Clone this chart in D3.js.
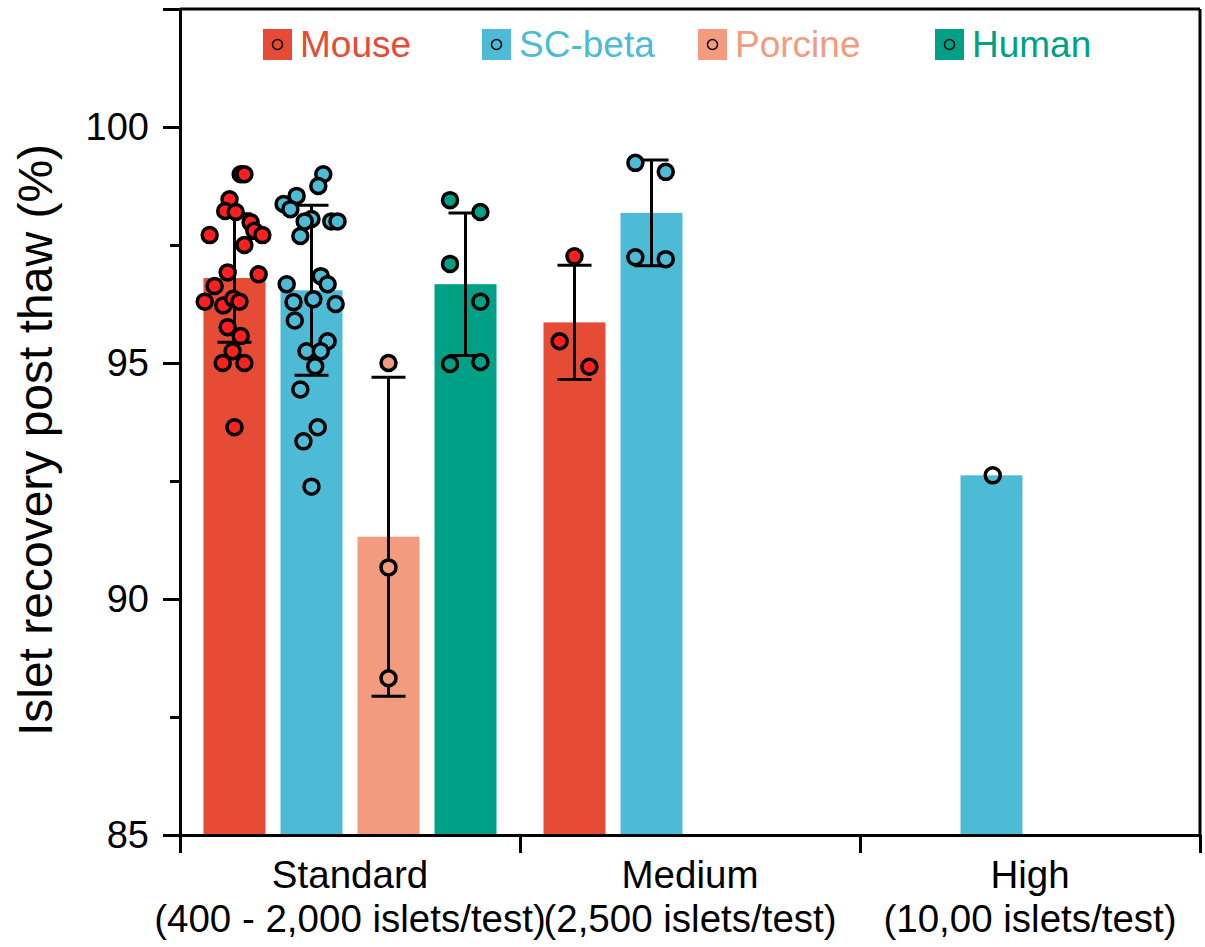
<!DOCTYPE html>
<html lang="en">
  <head>
    <meta charset="utf-8">
    <title>Islet recovery post thaw</title>
    <style>
      body {
        margin: 0;
        background: #fff;
        font-family: "Liberation Sans", Arial, Helvetica, sans-serif;
      }
    </style>
  </head>
  <body>
    <div class="graph"></div>

    <script src="https://d3js.org/d3.v7.min.js"></script>
    <script>
      // groups on the x axis
      var groups = ['Standard', 'Medium', 'High'];
      var groupSubtitles = ['(400 - 2,000 islets/test)', '(2,500 islets/test)', '(10,00 islets/test)'];
      var species = ['Mouse', 'SC-beta', 'Porcine', 'Human'];

      // bar means and SD
      var barGroup = ['Standard', 'Standard', 'Standard', 'Standard', 'Medium', 'Medium', 'High'];
      var barSpecies = ['Mouse', 'SC-beta', 'Porcine', 'Human', 'Mouse', 'SC-beta', 'SC-beta'];
      var barMean = [96.8, 96.54, 91.32, 96.67, 95.86, 98.18, 92.62];
      var barSD = [1.36, 1.8, 3.38, 1.51, 1.21, 1.12, null];

      // individual tests: value and jitter (fraction of bar width)
      var stdMouse = [99.0, 99.0, 98.47, 98.22, 98.2, 97.98, 97.8, 97.71, 97.71, 97.5, 96.92, 96.88,
                      96.63, 96.3, 96.22, 96.36, 96.3, 95.76, 95.57, 95.25, 95.0, 95.0, 93.64];
      var stdMouseJit = [0.1, 0.16, -0.08, -0.15, 0.02, 0.26, 0.32, 0.45, -0.4, 0.16, -0.11, 0.39,
                         -0.32, -0.48, -0.18, -0.02, 0.08, -0.11, 0.1, -0.03, -0.19, 0.16, 0];
      var stdSC = [99.0, 98.75, 98.54, 98.37, 98.26, 98.05, 98.0, 98.0, 98.0, 97.69, 96.84, 96.67, 96.67,
                   96.35, 96.25, 96.29, 95.9, 95.46, 95.25, 95.25, 94.93, 94.44, 93.64, 93.34, 92.38];
      var stdSCJit = [0.19, 0.11, -0.24, -0.45, -0.34, 0, -0.11, 0.32, 0.42, -0.18, 0.15, 0.26, -0.4,
                      0.03, 0.39, -0.29, -0.27, 0.26, -0.08, 0.15, 0.06, -0.18, 0.1, -0.13, 0];
      var stdPorcine = [95.0, 90.67, 88.32];
      var stdPorcineJit = [0, 0, 0];
      var stdHuman = [98.45, 98.2, 97.1, 96.3, 94.98, 95.02];
      var stdHumanJit = [-0.25, 0.24, -0.25, 0.24, -0.25, 0.24];
      var medMouse = [97.26, 95.46, 94.92];
      var medMouseJit = [0, -0.24, 0.24];
      var medSC = [99.24, 99.05, 97.24, 97.2];
      var medSCJit = [-0.26, 0.23, -0.26, 0.23];
      var highSC = [92.62];
      var highSCJit = [0.02];

      var yTicks = [85, 90, 95, 100];
      var yMinorTicks = [87.5, 92.5, 97.5];

      var barColor = {'Mouse': '#E64B35', 'SC-beta': '#4DBBD5', 'Porcine': '#F39B7F', 'Human': '#00A087'};
      var dotColor = {'Mouse': '#FF1F1F', 'SC-beta': '#4DBBD5', 'Porcine': '#F39B7F', 'Human': '#00A087'};

      var pointSets = [
        {group: 'Standard', species: 'Mouse', values: stdMouse, jitter: stdMouseJit},
        {group: 'Standard', species: 'SC-beta', values: stdSC, jitter: stdSCJit},
        {group: 'Standard', species: 'Porcine', values: stdPorcine, jitter: stdPorcineJit},
        {group: 'Standard', species: 'Human', values: stdHuman, jitter: stdHumanJit},
        {group: 'Medium', species: 'Mouse', values: medMouse, jitter: medMouseJit},
        {group: 'Medium', species: 'SC-beta', values: medSC, jitter: medSCJit},
        {group: 'High', species: 'SC-beta', values: highSC, jitter: highSCJit}
      ];

      var bars = barMean.map(function(m, i) {
        return {group: barGroup[i], species: barSpecies[i], mean: m, sd: barSD[i]};
      });
      var points = [];
      pointSets.forEach(function(s) {
        s.values.forEach(function(v, i) {
          points.push({group: s.group, species: s.species, value: v, jitter: s.jitter[i]});
        });
      });

      var width = 1205, height = 947;
      var margin = {top: 9, right: 5, bottom: 112, left: 180};

      var svg = d3.select('.graph')
                  .append('svg')
                  .attr('width', width)
                  .attr('height', height);

      var x0 = d3.scaleBand()
                 .domain(groups)
                 .range([margin.left, width - margin.right])
                 .padding(0);
      var x1 = d3.scaleBand()
                 .domain(species)
                 .range([0, x0.bandwidth()])
                 .paddingInner(0.195)
                 .paddingOuter(0.305);
      var jit = d3.scaleLinear().domain([-0.5, 0.5]).range([0, x1.bandwidth()]);
      var y = d3.scaleLinear()
                .domain([85, 102.5])
                .range([height - margin.bottom, margin.top]);

      function cx(d) { return x0(d.group) + x1(d.species) + x1.bandwidth() / 2; }

      // bars
      svg.append('g').selectAll('rect')
         .data(bars)
         .enter()
         .append('rect')
         .attr('x', function(d) { return x0(d.group) + x1(d.species); })
         .attr('width', x1.bandwidth())
         .attr('y', function(d) { return y(d.mean); })
         .attr('height', function(d) { return y(85) - y(d.mean); })
         .attr('fill', function(d) { return barColor[d.species]; });

      // error bars
      var eb = svg.append('g')
                  .selectAll('g')
                  .data(bars.filter(function(d) { return d.sd != null; }))
                  .enter()
                  .append('g')
                  .attr('stroke', '#000')
                  .attr('stroke-width', 3);
      eb.append('line')
        .attr('x1', cx).attr('x2', cx)
        .attr('y1', function(d) { return y(d.mean + d.sd); })
        .attr('y2', function(d) { return y(d.mean - d.sd); });
      eb.append('line')
        .attr('x1', function(d) { return cx(d) - 17; })
        .attr('x2', function(d) { return cx(d) + 17; })
        .attr('y1', function(d) { return y(d.mean + d.sd); })
        .attr('y2', function(d) { return y(d.mean + d.sd); });
      eb.append('line')
        .attr('x1', function(d) { return cx(d) - 17; })
        .attr('x2', function(d) { return cx(d) + 17; })
        .attr('y1', function(d) { return y(d.mean - d.sd); })
        .attr('y2', function(d) { return y(d.mean - d.sd); });

      // points
      svg.append('g').selectAll('circle')
         .data(points)
         .enter()
         .append('circle')
         .attr('cx', function(d) { return x0(d.group) + x1(d.species) + jit(d.jitter); })
         .attr('cy', function(d) { return y(d.value); })
         .attr('r', 7.5)
         .attr('fill', function(d) { return d.group === 'High' ? 'none' : dotColor[d.species]; })
         .attr('stroke', '#000')
         .attr('stroke-width', 3.5);

      // y axis
      var yAxis = svg.append('g')
                     .attr('transform', 'translate(' + margin.left + ',0)')
                     .call(d3.axisLeft(y).tickValues(yTicks).tickSize(17).tickPadding(14));
      svg.append('g')
         .attr('transform', 'translate(' + margin.left + ',0)')
         .call(d3.axisLeft(y).tickValues(yMinorTicks).tickSize(10).tickFormat(''))
         .call(function(g) { g.select('.domain').remove(); });

      // x axis: labels at group centres, ticks at group edges
      svg.append('g')
         .attr('transform', 'translate(0,' + (height - margin.bottom) + ')')
         .call(d3.axisBottom(x0).tickSize(0).tickPadding(0).tickFormat(''));
      var edges = d3.scaleLinear().domain([0, 3]).range(x0.range());
      svg.append('g')
         .attr('transform', 'translate(0,' + (height - margin.bottom) + ')')
         .call(d3.axisBottom(edges).tickValues([0, 1, 2, 3]).tickSize(18).tickFormat(''))
         .call(function(g) { g.select('.domain').remove(); });

      var labels = svg.append('g')
                      .selectAll('text')
                      .data(groups)
                      .enter()
                      .append('text')
                      .attr('text-anchor', 'middle')
                      .attr('fill', '#000');
      labels.append('tspan')
            .attr('x', function(d) { return x0(d) + x0.bandwidth() / 2; })
            .attr('y', 888)
            .attr('font-size', 38.5)
            .text(function(d) { return d; });
      labels.append('tspan')
            .attr('x', function(d) { return x0(d) + x0.bandwidth() / 2; })
            .attr('y', 932)
            .attr('font-size', 38.5)
            .text(function(d, i) { return groupSubtitles[i]; });

      // frame: top and right
      svg.append('line')
         .attr('x1', margin.left).attr('x2', width - margin.right)
         .attr('y1', margin.top).attr('y2', margin.top)
         .attr('stroke', '#000').attr('stroke-width', 3);
      svg.append('line')
         .attr('x1', width - margin.right).attr('x2', width - margin.right)
         .attr('y1', margin.top).attr('y2', height - margin.bottom)
         .attr('stroke', '#000').attr('stroke-width', 3);

      svg.selectAll('.domain, .tick line').attr('stroke', '#000').attr('stroke-width', 3);
      yAxis.selectAll('.tick text')
           .attr('font-size', 38)
           .attr('font-family', '"Liberation Sans", Arial, sans-serif')
           .attr('fill', '#000');

      // y title
      svg.append('text')
         .attr('transform', 'translate(52,' + 440 + ') rotate(-90)')
         .attr('text-anchor', 'middle')
         .attr('font-size', 48)
         .attr('fill', '#000')
         .text('Islet recovery post thaw (%)');

      // legend
      var legendX = [263, 482, 698, 935];
      var legend = svg.append('g')
                      .selectAll('g')
                      .data(species)
                      .enter()
                      .append('g')
                      .attr('transform', function(d, i) { return 'translate(' + legendX[i] + ',29)'; });
      legend.append('rect')
            .attr('width', 29)
            .attr('height', 31)
            .attr('fill', function(d) { return barColor[d]; });
      legend.append('circle')
            .attr('cx', 14.5)
            .attr('cy', 15.5)
            .attr('r', 5)
            .attr('fill', 'none')
            .attr('stroke', '#000')
            .attr('stroke-width', 1.5);
      legend.append('text')
            .attr('x', 37)
            .attr('y', 28)
            .attr('font-size', 37)
            .attr('fill', function(d) { return barColor[d]; })
            .text(function(d) { return d; });
    </script>
  </body>
</html>
